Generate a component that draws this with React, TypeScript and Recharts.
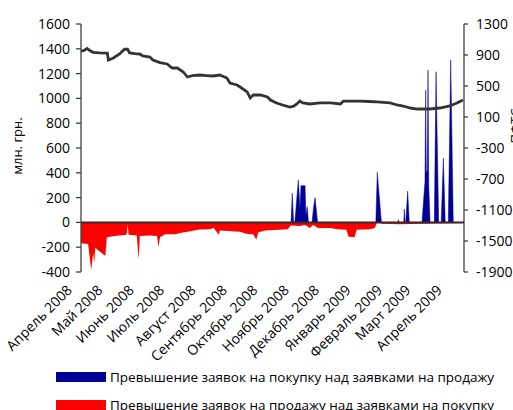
import React from 'react';
import { ComposedChart, Line, Area, XAxis, YAxis, ReferenceLine } from 'recharts';

// day index counted from 1 April 2008
const monthTicks = [0, 30, 61, 91, 122, 153, 183, 214, 244, 275, 306, 334, 365];
const monthLabels = [
  'Апрель 2008', 'Май 2008', 'Июнь 2008', 'Июль 2008', 'Август 2008', 'Сентябрь 2008',
  'Октябрь 2008', 'Ноябрь 2008', 'Декабрь 2008', 'Январь 2009', 'Февраль 2009', 'Март 2009', 'Апрель 2009',
];

// PFTS index (right axis)
const pftsDays = [0, 3, 6, 9, 12, 18, 26, 27, 32, 38, 43, 46, 48, 53, 58, 61, 68, 71, 78, 85, 90, 95, 101, 105, 110, 117, 124, 130, 137, 144, 147, 154, 157, 164, 167, 170, 177, 184, 187, 193, 199, 206, 210, 213, 216, 219, 226, 236, 246, 256, 259, 268, 275, 284, 292, 305, 312, 318, 325, 332, 338, 344, 354, 364, 371, 377];
const pftsValues = [950, 960, 985, 955, 935, 928, 924, 836, 861, 913, 974, 974, 926, 918, 913, 887, 874, 836, 801, 784, 732, 732, 681, 616, 635, 642, 635, 629, 642, 603, 539, 513, 487, 423, 345, 384, 384, 358, 319, 281, 255, 229, 240, 268, 306, 281, 268, 281, 281, 268, 306, 306, 306, 300, 294, 281, 255, 242, 216, 203, 205, 203, 216, 242, 281, 319];

// excess of buy orders, mln UAH (left axis)
const buyDays = [0, 207.3, 208.5, 209.8, 211, 214.5, 216.2, 217.1, 221.1, 222, 223.3, 224.5, 228, 229.5, 231, 233.5, 291, 292.4, 296.5, 312.5, 313.2, 313.8, 318.5, 319.1, 319.8, 320.5, 322.4, 324, 336.5, 339.5, 340.2, 340.8, 341.8, 342.5, 343.2, 344.5, 348.7, 350.4, 353, 355.5, 357.6, 359.5, 362.5, 364.9, 367.4, 378];
const buyValues = [0, 0, 235, 0, 0, 342, 110, 296, 296, 60, 127, 0, 0, 120, 200, 0, 0, 404, 0, 0, 21, 0, 0, 108, 0, 0, 253, 0, 0, 330, 1068, 400, 420, 1229, 300, 0, 0, 1215, 0, 0, 517, 0, 0, 1310, 0, 0];

// excess of sell orders, mln UAH (left axis)
const sellDays = [0, 7, 8, 10, 12, 13, 14, 24, 25.5, 33, 45, 46, 47, 55, 57, 58, 68, 75, 76.5, 78, 83, 93, 98, 105, 117, 127, 131, 136, 137, 157, 162, 167, 170, 173, 175, 182, 196, 204, 207, 216, 221, 226, 229, 234, 246, 253, 262, 264, 270, 272, 285, 290, 292, 298, 315, 335, 378];
const sellValues = [-168, -175, -240, -383, -250, -330, -205, -270, -120, -110, -100, -15, -100, -105, -300, -110, -105, -110, -196, -120, -95, -95, -85, -75, -58, -55, -45, -100, -65, -75, -90, -95, -95, -140, -80, -65, -60, -55, -25, -30, -20, -45, -20, -45, -45, -55, -60, -115, -120, -60, -55, -45, 0, -10, -15, -10, -5];

const leftTicks = [-400, -200, 0, 200, 400, 600, 800, 1000, 1200, 1400, 1600];
const rightTicks = [-1900, -1500, -1100, -700, -300, 100, 500, 900, 1300];

const buyLabel = 'Превышение заявок на покупку над заявками на продажу';
const sellLabel = 'Превышение заявок на продажу над заявками на покупку';

const pftsData = pftsDays.map((d, i) => ({ d, pfts: pftsValues[i] }));
const buyData = buyDays.map((d, i) => ({ d, buy: buyValues[i] }));
const sellData = sellDays.map((d, i) => ({ d, sell: sellValues[i] }));

const FONT = '"Open Sans", sans-serif';

const MonthTick = (props: any) => {
  const { x, y, payload } = props;
  const idx = monthTicks.indexOf(payload.value);
  const ax = x - 8;
  const ay = y + 19;
  return (
    <text x={ax} y={ay} transform={`rotate(-45, ${ax}, ${ay})`} textAnchor="end" fontSize={14} fill="#000" fontFamily={FONT}>
      {idx >= 0 ? monthLabels[idx] : ''}
    </text>
  );
};

export default function App() {
  return (
    <div style={{ position: 'absolute', left: 0, top: 0, width: 513, height: 410, overflow: 'hidden', background: '#fff', fontFamily: FONT }}>
      <ComposedChart width={513} height={410} margin={{ top: 24, right: 0, bottom: 0, left: 0 }}>
        <XAxis
          xAxisId="x"
          dataKey="d"
          type="number"
          domain={[0, 378]}
          allowDataOverflow
          ticks={monthTicks}
          interval={0}
          axisLine={false}
          tickLine={false}
          tickSize={0}
          tickMargin={0}
          height={138}
          tick={<MonthTick />}
        />
        <YAxis
          yAxisId="left"
          domain={[-400, 1600]}
          ticks={leftTicks}
          interval={0}
          width={81}
          axisLine={{ stroke: '#404040', strokeWidth: 1.3 }}
          tickLine={{ stroke: '#404040', strokeWidth: 1.3 }}
          tickSize={5}
          tickMargin={6}
          tick={{ fontSize: 14, fill: '#000', fontFamily: FONT }}
        />
        <YAxis
          yAxisId="right"
          orientation="right"
          domain={[-1900, 1300]}
          ticks={rightTicks}
          interval={0}
          width={49}
          axisLine={{ stroke: '#404040', strokeWidth: 1.3 }}
          tickLine={{ stroke: '#404040', strokeWidth: 1.3 }}
          tickSize={4}
          tickMargin={8}
          tick={{ fontSize: 14, fill: '#000', fontFamily: FONT, textAnchor: 'start' }}
        />
        <Area
          xAxisId="x"
          yAxisId="left"
          data={sellData}
          dataKey="sell"
          type="linear"
          stroke="none"
          fill="#ff0000"
          fillOpacity={1}
          isAnimationActive={false}
          dot={false}
          activeDot={false}
        />
        <Area
          xAxisId="x"
          yAxisId="left"
          data={buyData}
          dataKey="buy"
          type="linear"
          stroke="#000099"
          strokeWidth={0.5}
          fill="#000099"
          fillOpacity={1}
          isAnimationActive={false}
          dot={false}
          activeDot={false}
        />
        <ReferenceLine xAxisId="x" yAxisId="left" y={0} stroke="#3a2a2a" strokeWidth={2} />
        <Line
          xAxisId="x"
          yAxisId="right"
          data={pftsData}
          dataKey="pfts"
          type="linear"
          stroke="#333333"
          strokeWidth={2.8}
          dot={false}
          activeDot={false}
          isAnimationActive={false}
        />
        <text x={17} y={146} transform="rotate(-90, 17, 146)" textAnchor="middle" dominantBaseline="central" fontSize={13} fill="#000" fontFamily={FONT}>
          млн. грн.
        </text>
        <text x={515} y={126} transform="rotate(-90, 515, 126)" textAnchor="middle" dominantBaseline="central" fontSize={13} fill="#000" fontFamily={FONT}>
          ПФТС
        </text>
      </ComposedChart>
      <div style={{ position: 'absolute', left: 56, top: 372, width: 50, height: 10, background: '#000099' }} />
      <div style={{ position: 'absolute', left: 110, top: 367, fontSize: 13.5, lineHeight: '20px', whiteSpace: 'nowrap', color: '#000' }}>{buyLabel}</div>
      <div style={{ position: 'absolute', left: 56, top: 400, width: 50, height: 10, background: '#ff0000' }} />
      <div style={{ position: 'absolute', left: 110, top: 395, fontSize: 13.5, lineHeight: '20px', whiteSpace: 'nowrap', color: '#000' }}>{sellLabel}</div>
    </div>
  );
}
